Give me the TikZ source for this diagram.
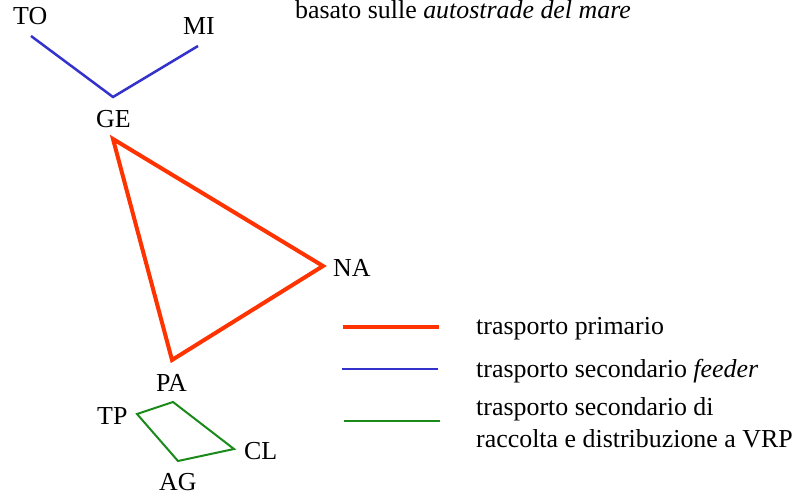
\documentclass[tikz,border=0pt]{standalone}
\usepackage{fontspec}
\setmainfont{Liberation Serif}[ItalicFont={Liberation Serif Italic}]
\definecolor{primred}{HTML}{FF3300}
\definecolor{feedblue}{HTML}{3333CC}
\definecolor{vrpgreen}{HTML}{1A8A1A}
\tikzset{
  lbl/.style={anchor=base west, inner sep=0pt, font=\fontsize{26}{32}\selectfont},
  primario/.style={draw=primred, line width=4bp},
  feeder/.style={draw=feedblue, line width=2.5bp},
  raccolta/.style={draw=vrpgreen, line width=2bp},
}
\begin{document}
\begin{tikzpicture}[x=1bp,y=-1bp]
\useasboundingbox (0,0) rectangle (798,496);
% vertices
\coordinate (to) at (31,36);
\coordinate (mi) at (198,46);
\coordinate (geb) at (113,97);
\coordinate (ge) at (113,139);
\coordinate (na) at (323,266);
\coordinate (pa) at (172,360);
\coordinate (tp) at (137,414);
\coordinate (pag) at (173,402);
\coordinate (cl) at (234,449);
\coordinate (ag) at (178,461);
% connectors
\draw[feeder] (to) -- (geb) -- (mi);
\draw[primario] (ge) -- (na) -- (pa) -- cycle;
\draw[raccolta] (tp) -- (pag) -- (cl) -- (ag) -- cycle;
% labels
\node[lbl] (lto) at (13,25) {TO};
\node[lbl] (lmi) at (183,35) {MI};
\node[lbl] (lge) at (96,128) {GE};
\node[lbl] (lna) at (333,277) {NA};
\node[lbl] (lpa) at (156,391) {PA};
\node[lbl] (ltp) at (97,424) {TP};
\node[lbl] (lcl) at (244,459) {CL};
\node[lbl] (lag) at (159,490) {AG};
\node[lbl] (title) at (295,19) {basato sulle \textit{autostrade del mare}};
% legend
\coordinate (r1) at (343,327); \coordinate (r2) at (439,327);
\coordinate (b1) at (342,369); \coordinate (b2) at (438,369);
\coordinate (g1) at (344,421); \coordinate (g2) at (440,421);
\draw[primario] (r1) -- (r2);
\draw[feeder] (b1) -- (b2);
\draw[raccolta] (g1) -- (g2);
\node[lbl] (t1) at (476,334) {trasporto primario};
\node[lbl] (t2) at (476,377) {trasporto secondario \textit{feeder}};
\node[lbl] (t3) at (476,415) {trasporto secondario di};
\node[lbl] (t4) at (476,447) {raccolta e distribuzione a VRP};
\end{tikzpicture}
\end{document}
